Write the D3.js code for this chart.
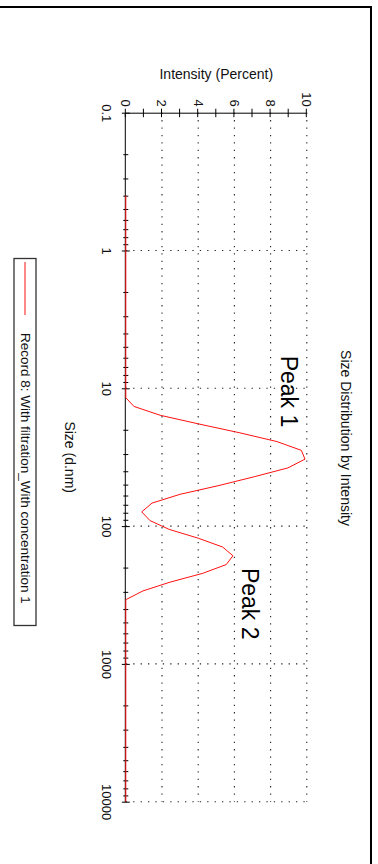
<!DOCTYPE html>
<html>
<head>
<meta charset="utf-8">
<script src="https://cdn.jsdelivr.net/npm/d3@7"></script>
<style>
  html, body { margin: 0; padding: 0; background: #fff; }
  svg { display: block; font-family: "Liberation Sans", Arial, sans-serif; }
</style>
</head>
<body>
<svg id="chart" width="378" height="864"></svg>
<script>
// Size classes (d.nm) of the intensity distribution
const sizeNm = [
  0.4, 0.4632, 0.5365, 0.6213, 0.7195, 0.8332, 0.9649, 1.117, 1.294, 1.499,
  1.736, 2.01, 2.328, 2.696, 3.122, 3.615, 4.187, 4.849, 5.615, 6.503,
  7.531, 8.721, 10.1, 11.7, 13.54, 15.69, 18.17, 21.04, 24.36, 28.21,
  32.67, 37.84, 43.82, 50.75, 58.77, 68.06, 78.82, 91.28, 105.7, 122.4,
  141.8, 164.2, 190.1, 220.2, 255.0, 295.3, 342.0, 396.1, 458.7, 531.2,
  615.1, 712.4, 825.0, 955.4, 1106, 1281, 1484, 1718, 1990, 2305,
  2669, 3091, 3580, 4145, 4801, 5560, 6439, 7456, 8635, 10000
];
// Intensity (percent) per size class
const intensityPct = [
  0, 0, 0, 0, 0, 0, 0, 0, 0, 0,
  0, 0, 0, 0, 0, 0, 0, 0, 0, 0,
  0, 0, 0, 0, 0.45, 1.9, 4.05, 6.3, 8.35, 9.7,
  9.9, 8.95, 7.1, 5.15, 3.0, 1.45, 0.88, 1.34, 2.4, 4.0,
  5.35, 5.92, 5.55, 4.25, 2.45, 0.95, 0, 0, 0, 0,
  0, 0, 0, 0, 0, 0, 0, 0, 0, 0,
  0, 0, 0, 0, 0, 0, 0, 0, 0, 0
];
const intensityTickLabels = [0, 2, 4, 6, 8, 10];
const sizeTickLabels = [0.1, 1, 10, 100, 1000, 10000];
const peakNames = ["Peak 1", "Peak 2"];
const seriesName = "Record 8: With filtration_With concentration 1";

const svg = d3.select("#chart");

// Page frame
svg.append("line").attr("x1", 0).attr("x2", 371).attr("y1", 7).attr("y2", 7)
  .attr("stroke", "#000").attr("stroke-width", 2);
svg.append("line").attr("x1", 371).attr("x2", 371).attr("y1", 6).attr("y2", 864)
  .attr("stroke", "#000").attr("stroke-width", 2);

// The chart is laid out landscape and turned a quarter turn clockwise
const root = svg.append("g").attr("transform", "translate(378,0) rotate(90)");

const x = d3.scaleLog().domain([0.1, 10000]).range([112.7, 801.7]);
const y = d3.scaleLinear().domain([0, 10]).range([252.2, 71.2]);

const dotted = { stroke: "#222", "stroke-width": 1.1, "stroke-dasharray": "1.3,6.1" };

// Dotted grid
const gridH = root.append("g");
gridH.selectAll("line").data(intensityTickLabels.filter(d => d > 0)).join("line")
  .attr("x1", x.range()[0]).attr("x2", x.range()[1])
  .attr("y1", d => y(d)).attr("y2", d => y(d))
  .each(function () { for (const k in dotted) d3.select(this).attr(k, dotted[k]); });
const gridV = root.append("g");
gridV.selectAll("line").data(sizeTickLabels.filter(d => d > 0.1)).join("line")
  .attr("x1", d => x(d)).attr("x2", d => x(d))
  .attr("y1", y(0)).attr("y2", y(10))
  .each(function () { for (const k in dotted) d3.select(this).attr(k, dotted[k]); });

// Intensity axis
const yAxis = d3.axisLeft(y)
  .tickValues(d3.range(0, 11))
  .tickFormat(d => intensityTickLabels.includes(d) ? d : "")
  .tickSize(4).tickSizeOuter(0).tickPadding(2);
const gy = root.append("g").attr("transform", `translate(${x.range()[0]},0)`).call(yAxis);
gy.selectAll(".tick line").attr("x1", -4).attr("x2", 4.5).attr("stroke", "#000");
gy.select(".domain").attr("stroke", "#000");
gy.selectAll("text").attr("font-size", 13).attr("fill", "#111")
  .attr("font-family", "'Liberation Sans', Arial, sans-serif");

// Size axis (log)
const sizeTickValues = [];
for (let e = -1; e < 4; e++) for (let m = 1; m < 10; m++) sizeTickValues.push(+(m * Math.pow(10, e)).toPrecision(3));
sizeTickValues.push(10000);
const xAxis = d3.axisBottom(x)
  .tickValues(sizeTickValues)
  .tickFormat(d => sizeTickLabels.includes(d) ? String(d) : "")
  .tickSize(4).tickSizeOuter(0);
const gx = root.append("g").attr("transform", `translate(0,${y(0)})`).call(xAxis);
gx.selectAll(".tick line")
  .attr("y1", d => sizeTickLabels.includes(d) ? -4 : -2.5)
  .attr("y2", d => sizeTickLabels.includes(d) ? 4 : 2.5)
  .attr("stroke", "#000");
gx.select(".domain").attr("stroke", "#000");
gx.selectAll("text").attr("y", 14.5).attr("font-size", 13).attr("fill", "#111")
  .attr("font-family", "'Liberation Sans', Arial, sans-serif");

// Distribution curve
const pts = sizeNm.map((s, i) => [s, intensityPct[i]]);
root.append("path").datum(pts)
  .attr("fill", "none").attr("stroke", "#ff1010").attr("stroke-width", 1)
  .attr("d", d3.line().x(d => x(d[0])).y(d => y(d[1])));

// Titles
root.append("text").attr("x", 438).attr("y", 37.3).attr("text-anchor", "middle")
  .attr("font-size", 14).attr("fill", "#111").text("Size Distribution by Intensity");
root.append("text").attr("x", (x.range()[0] + x.range()[1]) / 2).attr("y", 313)
  .attr("text-anchor", "middle").attr("font-size", 14).attr("fill", "#111").text("Size (d.nm)");
svg.append("text").attr("x", 378 - (y(0) + y(10)) / 2).attr("y", 78.5)
  .attr("text-anchor", "middle").attr("font-size", 14).attr("fill", "#111").text("Intensity (Percent)");

// Peak annotations
root.append("text").attr("x", x(5.8)).attr("y", y(8.6)).attr("font-size", 23)
  .attr("fill", "#000").text(peakNames[0]);
root.append("text").attr("x", x(201)).attr("y", y(6.4)).attr("font-size", 23)
  .attr("fill", "#000").text(peakNames[1]);

// Legend
const lg = root.append("g");
lg.append("rect").attr("x", 258.5).attr("y", 342).attr("width", 367).attr("height", 22)
  .attr("fill", "#fff").attr("stroke", "#333").attr("stroke-width", 1.3);
lg.append("line").attr("x1", 262).attr("x2", 315).attr("y1", 353).attr("y2", 353)
  .attr("stroke", "#ff1010").attr("stroke-width", 1);
lg.append("text").attr("x", 333).attr("y", 357.5).attr("font-size", 13.5)
  .attr("fill", "#111").text(seriesName);
</script>
</body>
</html>
